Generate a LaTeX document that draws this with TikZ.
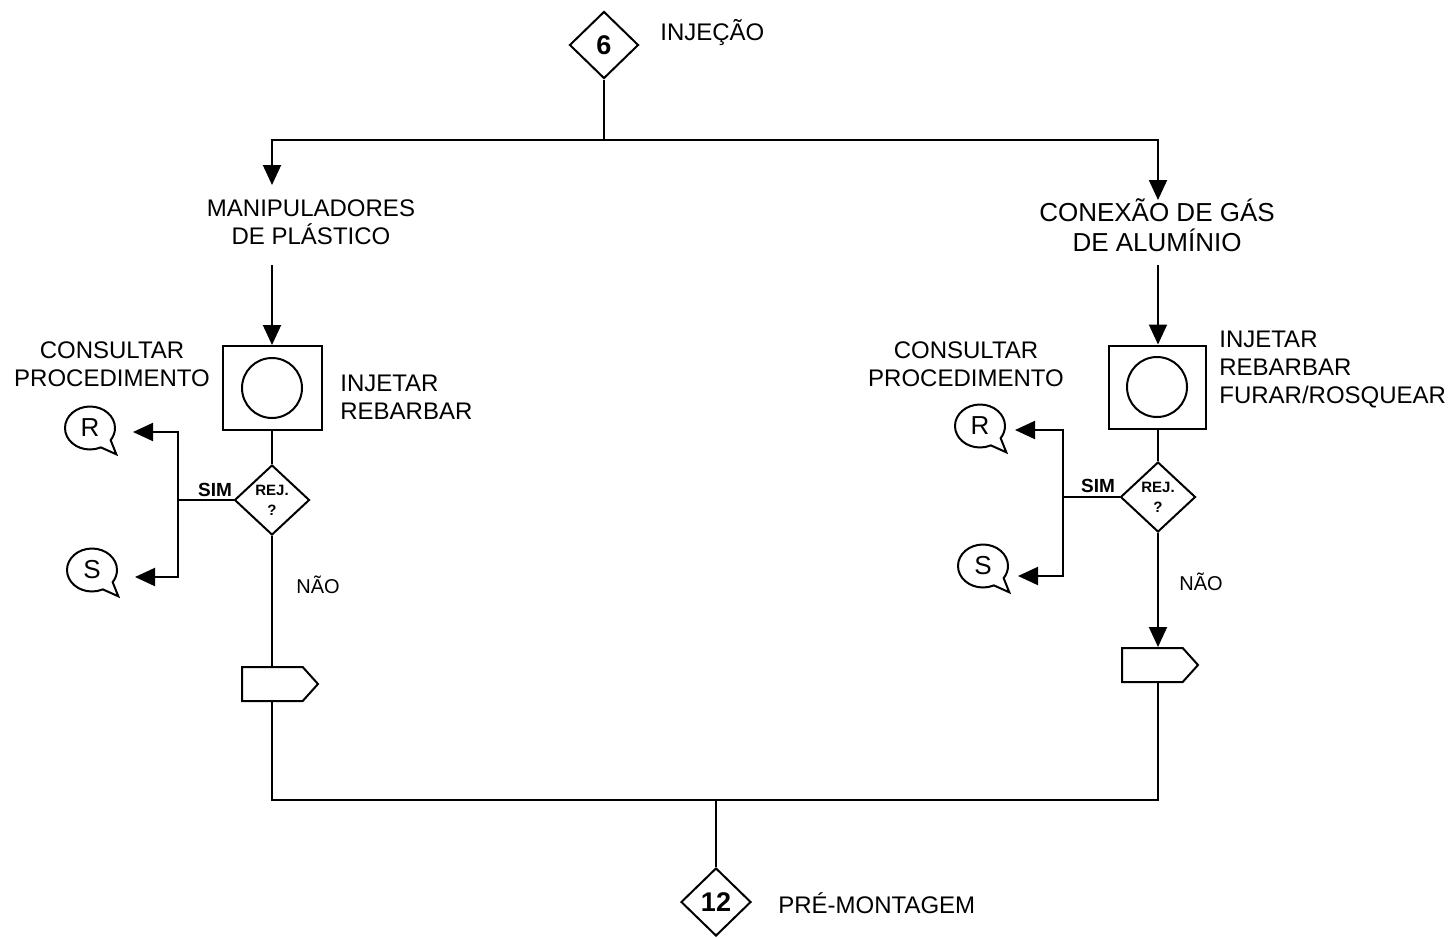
\documentclass[tikz,border=0pt]{standalone}
\usepackage{fontspec}
\setmainfont{Liberation Sans}
\usetikzlibrary{shapes.geometric,shapes.symbols,shapes.callouts,arrows.meta}

\begin{document}
\begin{tikzpicture}[x=1pt,y=-1pt,line width=2pt,
  every node/.style={font=\fontsize{24}{28}\selectfont},
  conn/.style={diamond,draw,fill=white,minimum width=69pt,minimum height=67pt,inner sep=0pt,
    font=\fontsize{27}{27}\selectfont\bfseries},
  proc/.style={rectangle,draw,fill=white,minimum width=99pt,minimum height=84pt},
  ring/.style={circle,draw,minimum size=60pt,inner sep=0pt},
  dec/.style={diamond,draw,fill=white,minimum width=75pt,minimum height=70pt,inner sep=0pt,
    align=center,font=\fontsize{15}{20}\selectfont\bfseries},
  bubble/.style={ellipse callout,draw,minimum width=50pt,minimum height=43pt,inner sep=0pt,
    callout relative pointer={(10pt,-10pt)},callout pointer arc=30,font=\fontsize{26}{26}\selectfont},
  flag/.style={signal,signal to=east,draw,fill=white,minimum width=76pt,minimum height=34pt,
    signal pointer angle=96,inner sep=0pt,anchor=west},
  small/.style={font=\fontsize{19}{19}\selectfont\bfseries},
  arr/.style={-{Triangle[length=20pt,width=18pt]}}]
\useasboundingbox (0,0) rectangle (1448,937);

\node[conn] (c6) at (604,45) {6};
\node[anchor=west] (inj) at (656,33) {INJEÇÃO};
\coordinate (split) at (604,140);
\coordinate (tl) at (272,185);
\coordinate (tr) at (1158,200);
\draw (c6.south) -- (split);
\draw[arr] (split) -| (tl);
\draw[arr] (split) -| (tr);

\node[align=center] (lab1) at (311,222) {MANIPULADORES\\DE PLÁSTICO};
\node[align=center,font=\fontsize{26}{30}\selectfont] (lab2) at (1157,225) {CONEXÃO DE GÁS\\DE ALUMÍNIO};

% lado esquerdo
\coordinate (m1) at (272,265);
\node[proc] (box1) at (272,388) {};
\node[ring] (o1) at (box1) {};
\node[anchor=west,align=left] (t1) at (336,397) {INJETAR\\REBARBAR};
\draw[arr] (m1) -- (box1.north);
\node[dec] (dec1) at (272,500) {REJ.\\?};
\draw (box1.south) -- (dec1.north);
\node[align=center] (cp1) at (112,364) {CONSULTAR\\PROCEDIMENTO};
\node[bubble] (r1) at (90,428) {R};
\node[bubble] (s1) at (92,570) {S};
\coordinate (j1) at (178,500);
\coordinate (rt1) at (133,432);
\coordinate (st1) at (135,577);
\draw (dec1.west) -- (j1);
\draw[arr] (j1) |- (rt1);
\draw[arr] (j1) |- (st1);
\node[small] (sim1) at (215,490) {SIM};
\node[font=\fontsize{20}{20}\selectfont] (nao1) at (318,585) {NÃO};
\node[flag] (f1) at (241,684) {};
\draw (dec1.south) -- (dec1.south |- f1.north);

% lado direito
\coordinate (m2) at (1158,265);
\node[proc,minimum width=97pt,minimum height=83pt] (box2) at (1157,387) {};
\node[ring] (o2) at (box2) {};
\node[anchor=west,align=left] (t2) at (1215,370) {INJETAR\\REBARBAR\\FURAR/ROSQUEAR};
\draw[arr] (m2) -- (m2 |- box2.north);
\node[dec] (dec2) at (1158,497) {REJ.\\?};
\draw (dec2.north |- box2.south) -- (dec2.north);
\node[align=center] (cp2) at (966,364) {CONSULTAR\\PROCEDIMENTO};
\node[bubble] (r2) at (980,426) {R};
\node[bubble] (s2) at (983,566) {S};
\coordinate (j2) at (1063,497);
\coordinate (rt2) at (1015,430);
\coordinate (st2) at (1018,576);
\draw (dec2.west) -- (j2);
\draw[arr] (j2) |- (rt2);
\draw[arr] (j2) |- (st2);
\node[small] (sim2) at (1098,486) {SIM};
\node[font=\fontsize{20}{20}\selectfont] (nao2) at (1201,582) {NÃO};
\node[flag] (f2) at (1121,665) {};
\draw[arr] (dec2.south) -- (dec2.south |- f2.north);

% juncao
\coordinate (join) at (716,800);
\node[conn,minimum width=70pt,minimum height=68pt] (c12) at (716,902) {12};
\node[anchor=west] (pre) at (774,903) {PRÉ-MONTAGEM};
\draw (m1 |- f1.south) -- (m1 |- join) -- (m2 |- join) -- (m2 |- f2.south);
\draw (join) -- (c12.north);
\end{tikzpicture}
\end{document}
